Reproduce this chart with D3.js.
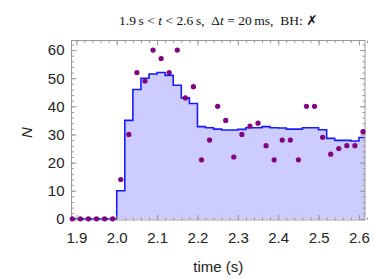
<!DOCTYPE html>
<html>
<head>
<meta charset="utf-8">
<script src="https://cdn.jsdelivr.net/npm/d3@7"></script>
<style>
  body { margin: 0; background: #fff; }
  svg { display: block; }
  .tick text { font-family: "Liberation Sans", Arial, sans-serif; font-size: 15px; fill: #222; }
</style>
</head>
<body>
<div id="chart"></div>
<script>
// histogram bin left edges (s) and heights
var binStarts = [1.88, 1.90, 1.92, 1.94, 1.96, 1.98,
  2.00, 2.02, 2.04, 2.06, 2.08, 2.10, 2.12, 2.14, 2.16, 2.18,
  2.20, 2.22, 2.24, 2.26, 2.28, 2.30, 2.32, 2.34, 2.36, 2.38,
  2.40, 2.42, 2.44, 2.46, 2.48, 2.50, 2.52, 2.54, 2.56, 2.58, 2.60];
var binHeights = [0, 0, 0, 0, 0, 0,
  10, 35, 46, 50, 51.5, 52, 51, 47.5, 43, 41,
  32.8, 32.4, 31.9, 31.6, 31.6, 31.8, 32.4, 32.4, 32.8, 32.4,
  32.3, 31.9, 31.9, 32.4, 32.4, 31.7, 28.6, 27.9, 27.9, 27.7, 28.9];
var binEnd = 2.62;

// raw counts per 20 ms bin (points at bin centres)
var dotTimes = [1.89, 1.91, 1.93, 1.95, 1.97, 1.99, 2.01, 2.03, 2.05, 2.07,
  2.09, 2.11, 2.13, 2.15, 2.17, 2.19, 2.21, 2.23, 2.25, 2.27,
  2.29, 2.31, 2.33, 2.35, 2.37, 2.39, 2.41, 2.43, 2.45, 2.47,
  2.49, 2.51, 2.53, 2.55, 2.57, 2.59, 2.61];
var dotCounts = [0, 0, 0, 0, 0, 0, 14, 30, 52, 49,
  60, 57, 52, 60, 43, 47, 21, 28, 40, 35,
  22, 30, 33, 34, 26, 21, 28, 28, 21, 40,
  40, 29, 23, 25, 26, 26, 31];

var xTicks = [1.9, 2.0, 2.1, 2.2, 2.3, 2.4, 2.5, 2.6];
var yTicks = [0, 10, 20, 30, 40, 50, 60];

var svgWidth = 374, svgHeight = 278;
var margin = {left: 71.5, top: 40.5, right: 9, bottom: 58};
var width = svgWidth - margin.left - margin.right;
var height = svgHeight - margin.top - margin.bottom;

var svg = d3.select("#chart").append("svg")
  .attr("width", svgWidth)
  .attr("height", svgHeight);

var chartGroup = svg.append("g")
  .attr("transform", `translate(${margin.left}, ${margin.top})`);

var x = d3.scaleLinear().domain([1.888, 2.615]).range([0, width]);
var y = d3.scaleLinear().domain([-0.4, 63.4]).range([height, 0]);

svg.append("defs").append("clipPath").attr("id", "clip")
  .append("rect").attr("width", width).attr("height", height);

// histogram as steps
var steps = binStarts.map((t, i) => ({t: t, n: binHeights[i]}));
steps.push({t: binEnd, n: binHeights[binHeights.length - 1]});

var area = d3.area()
  .curve(d3.curveStepAfter)
  .x(d => x(d.t))
  .y0(y(0))
  .y1(d => y(d.n));
var line = d3.line()
  .curve(d3.curveStepAfter)
  .x(d => x(d.t))
  .y(d => y(d.n));

var histGroup = chartGroup.append("g").attr("clip-path", "url(#clip)");
histGroup.append("path")
  .datum(steps)
  .attr("d", area)
  .attr("fill", "#ccccff");
histGroup.append("path")
  .datum(steps)
  .attr("d", line)
  .attr("fill", "none")
  .attr("stroke", "#1a1aff")
  .attr("stroke-width", 1.6);

// frame with inward ticks
var minorX = d3.range(1.9, 2.62, 0.02);
var minorY = d3.range(0, 64, 2);
var frameColor = "#999";

function addAxis(axis, tf, labels) {
  var g = chartGroup.append("g").attr("transform", tf).call(axis);
  g.select(".domain").remove();
  g.selectAll(".tick line").attr("stroke", frameColor);
  if (!labels) g.selectAll(".tick text").remove();
  return g;
}

addAxis(d3.axisBottom(x).tickValues(minorX).tickSize(-2.5).tickFormat(""), `translate(0,${height})`, false);
addAxis(d3.axisTop(x).tickValues(minorX).tickSize(-2.5).tickFormat(""), "translate(0,0)", false);
addAxis(d3.axisLeft(y).tickValues(minorY).tickSize(-2.5).tickFormat(""), "translate(0,0)", false);
addAxis(d3.axisRight(y).tickValues(minorY).tickSize(-2.5).tickFormat(""), `translate(${width},0)`, false);

var xAxis = addAxis(d3.axisBottom(x).tickValues(xTicks).tickSize(-5).tickPadding(12).tickFormat(d3.format(".1f")),
  `translate(0,${height})`, true);
addAxis(d3.axisTop(x).tickValues(xTicks).tickSize(-5).tickFormat(""), "translate(0,0)", false);
var yAxis = addAxis(d3.axisLeft(y).tickValues(yTicks).tickSize(-5).tickPadding(7).tickFormat(d3.format("d")),
  "translate(0,0)", true);
addAxis(d3.axisRight(y).tickValues(yTicks).tickSize(-5).tickFormat(""), `translate(${width},0)`, false);

chartGroup.append("rect")
  .attr("width", width)
  .attr("height", height)
  .attr("fill", "none")
  .attr("stroke", frameColor)
  .attr("stroke-width", 1);

// points
chartGroup.selectAll("circle")
  .data(dotTimes)
  .enter()
  .append("circle")
  .attr("cx", d => x(d))
  .attr("cy", (d, i) => y(dotCounts[i]))
  .attr("r", 2.6)
  .attr("fill", "#800080");

// axis labels
svg.append("text")
  .attr("x", margin.left + width / 2)
  .attr("y", 272)
  .attr("text-anchor", "middle")
  .attr("font-family", "Liberation Sans, Arial, sans-serif")
  .attr("font-size", "15px")
  .attr("fill", "#222")
  .text("time (s)");

svg.append("text")
  .attr("transform", "translate(32,132.5)rotate(-90)")
  .attr("text-anchor", "middle")
  .attr("font-family", "Liberation Sans, Arial, sans-serif")
  .attr("font-style", "italic")
  .attr("font-size", "15px")
  .attr("fill", "#222")
  .text("N");

// title
var title = svg.append("text")
  .attr("x", margin.left + width / 2)
  .attr("y", 25)
  .attr("text-anchor", "middle")
  .attr("font-family", "Liberation Serif, DejaVu Serif, serif")
  .attr("font-size", "13.5px")
  .attr("fill", "#111")
  .attr("xml:space", "preserve");
title.append("tspan").text("1.9\u2009s < ");
title.append("tspan").attr("font-style", "italic").text("t");
title.append("tspan").text(" < 2.6\u2009s,  \u0394");
title.append("tspan").attr("font-style", "italic").text("t");
title.append("tspan").text(" = 20\u2009ms,  BH: ");
title.append("tspan").attr("font-family", "DejaVu Sans, sans-serif").attr("font-weight", "bold").text("\u2717");
</script>
</body>
</html>
